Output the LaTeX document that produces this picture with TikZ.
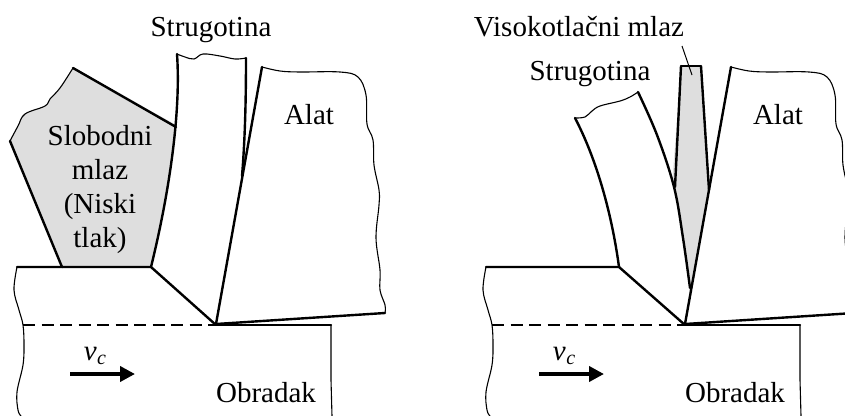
\documentclass[tikz,border=0pt]{standalone}
\usepackage{fontspec}
\setmainfont{Liberation Serif}
\usetikzlibrary{arrows.meta}
\definecolor{jet}{HTML}{DEDEDE}
\tikzset{
 edge/.style={line width=2.4pt,line cap=round,line join=round},
 wavy/.style={line width=1.1pt,line cap=round,line join=round},
 lab/.style={inner sep=0pt,font=\fontsize{29}{34}\selectfont,text=black},
 feed/.style={line width=4.4pt,-{Triangle[length=15pt,width=15pt]}},
}
\newcommand{\vcut}{\textit{v}\kern0.5pt\raisebox{-4pt}{\fontsize{20}{20}\selectfont\textit{c}}}
\newcommand{\workpiece}[2]{%
 \begin{scope}[xshift=#1]
  \draw[wavy] plot[smooth,tension=.6] coordinates {(17,267) (14,290) (19,310) (23,325) (24,345) (23,365) (17,392) (18,410) (21,416)};
  \draw[wavy] (331,325) -- (331,380) -- (332,416);
  \draw[edge] (17,267) -- (#2,267) -- (216,325);
  \draw[line width=1.4pt,dash pattern=on 12pt off 6.5pt] (23,325) -- (216,325);
  \draw[edge] (216,325) -- (331,325);
  \draw[edge] (216,324) -- (385,313);
  \draw[wavy] plot[smooth,tension=.6] coordinates {(262,67) (280,71) (300,72) (340,72) (358,77) (366,95) (367,124) (373,140) (374,165) (379,190) (379,205) (376,238) (380,270) (380,290) (385,305) (385,313)};
  \draw[edge] (262,67) -- (216,324);
  \draw[feed] (70,374) -- (135,374);
 \end{scope}}
\begin{document}
\begin{tikzpicture}[x=1pt,y=-1pt]
\useasboundingbox (0,0) rectangle (845,415);
\clip (0,0) rectangle (845,415);
% ---- left figure
\fill[jet] plot[smooth,tension=.6] coordinates {(73,68) (60,88) (50,99) (45,106) (25,114) (18,126) (10,141)} -- (62,267) -- (170,267) -- (180,127) -- cycle;
\fill[white] (177,54) .. controls (181,110) and (170,190) .. (151,267) -- (216,324) -- (243,170) -- (246,58) -- cycle;
\draw[edge] (10,141) -- (62,267);
\draw[edge] (73,68) -- (176,127);
\draw[wavy] plot[smooth,tension=.6] coordinates {(73,68) (60,88) (50,99) (45,106) (25,114) (18,126) (10,141)};
\draw[edge] (177,54) .. controls (181,110) and (170,190) .. (151,267);
\draw[edge] (246,58) .. controls (246,100) and (245,140) .. (242,176);
\draw[wavy] plot[smooth,tension=.6] coordinates {(177,54) (185,57) (194,59) (203,54) (220,56) (235,59) (246,58)};
\workpiece{0pt}{151}
% ---- right figure
\fill[jet] (681,66) -- (672,185) -- (685,292) -- (691,292) -- (709,190) -- (701,66) -- cycle;
\fill[white] (575,118) .. controls (597,160) and (612,215) .. (619,267) -- (685,325) -- (690,285) -- plot[smooth,tension=.6] coordinates {(690,285) (683,238) (674,187) (657,135) (638,92)} -- cycle;
\draw[edge] (575,118) .. controls (597,160) and (612,215) .. (619,267);
\draw[edge] plot[smooth,tension=.6] coordinates {(638,92) (657,135) (674,187) (683,238) (690,288)};
\draw[wavy] plot[smooth,tension=.6] coordinates {(575,118) (585,117) (592,111) (600,106) (620,101) (630,97) (638,92)};
\draw[edge] (681,66) -- (675,187);
\draw[edge] (701,66) -- (709,190);
\draw[wavy] (681,66) -- (691,66) -- (701,66);
\workpiece{469pt}{150}
\coordinate (leadA) at (682,46);
\coordinate (leadB) at (692,75);
\draw[line width=1pt] (leadA) -- (leadB);
% ---- labels
\node[lab,anchor=base] (chipL) at (211,36) {Strugotina};
\node[lab,anchor=base] (toolL) at (309,124) {Alat};
\node[lab,anchor=base] (workL) at (266,402) {Obradak};
\node[lab,align=center] (jetL) at (100,190) {Slobodni\\mlaz\\(Niski\\tlak)};
\node[lab,anchor=base] (speedL) at (95,360) {\vcut};
\node[lab,anchor=base] (jetR) at (579,36) {Visokotlačni mlaz};
\node[lab,anchor=base] (chipR) at (590,80) {Strugotina};
\node[lab,anchor=base] (toolR) at (778,124) {Alat};
\node[lab,anchor=base] (workR) at (735,402) {Obradak};
\node[lab,anchor=base] (speedR) at (564,360) {\vcut};
\end{tikzpicture}
\end{document}
